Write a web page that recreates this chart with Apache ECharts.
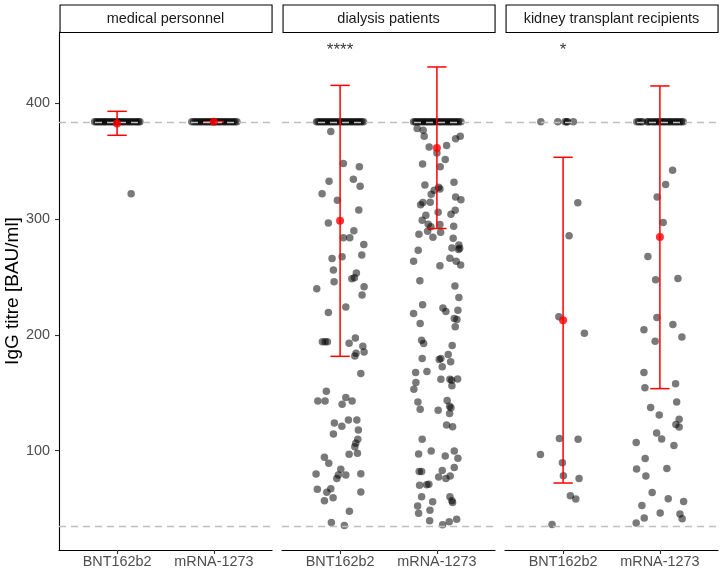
<!DOCTYPE html>
<html>
<head>
<meta charset="utf-8">
<script src="https://cdn.jsdelivr.net/npm/echarts@6/dist/echarts.min.js"></script>
<style>html,body{margin:0;padding:0;background:#fff}#c{width:722px;height:573px}</style>
</head>
<body>
<div id="c"></div>
<script>
// ---------- data ----------
const panels = ['medical personnel', 'dialysis patients', 'kidney transplant recipients'];
const categories = ['BNT162b2', 'mRNA-1273'];
const yTicks = [100, 200, 300, 400];
const upperLimit = 384;
const lowerLimit = 35;

// points below the upper limit: [jitter (category units), IgG titre]
const medBNT = [[0.145, 322]];
const medMRNA = [];
const dialBNT = [[-0.096,375.6],[0.034,348],[0.199,345.3],[-0.114,332.6],[0.137,334.4],[0.207,328.3],[-0.186,322],[-0.028,316.2],[0.193,307.9],[-0.121,296.6],[0.142,290],[0.034,284],[0.1,284],[0.245,278],[-0.083,266],[0.021,267.4],[0.224,269],[-0.069,256],[0.168,253.4],[0.121,248.5],[0.148,249.3],[-0.062,245.9],[-0.241,239.8],[0.248,241.6],[0.227,234.4],[0.059,224],[-0.121,219.3],
[-0.183,194.2],[-0.155,194.2],[-0.131,194.2],[0.093,192.8],[0.158,197.3],[0.235,190.2],[0.248,185.3],[0.165,184.2],[0.152,181.8],[0.214,166.6],[-0.142,151.3],[-0.23,143],[-0.155,143],[0.059,146],[0.021,140.2],[0.124,143],[-0.059,124],[0.018,121.2],[0.086,126.5],[0.173,126.5],[-0.069,114.5],[0.189,117.9],[0.183,109.9],[0.162,106.4],[0.152,103.5],[0.093,96.9],[0.179,97.8],[-0.162,94.3],[-0.117,89.1],[0.007,84],[-0.248,79.9],[-0.018,79],[0.059,79],[-0.034,75.9],[0.214,80],[-0.235,66.7],[-0.137,64.1],[-0.096,67.2],[-0.072,59.4],[-0.162,56.8],[0.214,64.4],[0.096,47.7],[-0.09,38],[0.044,35.4]];
const dialMRNA = [[-0.204,378.2],[-0.142,376.7],[-0.131,371.5],[0.193,369.5],[0.241,371.5],[-0.08,362.3],[0.1,363.5],[0,357.1],[0.086,351.4],[-0.148,347.6],[0.034,345.3],[-0.124,329.5],[0.176,331.8],[0.018,327.5],[0.031,326],[-0.028,324.9],[-0.059,321.4],[0.193,319.1],[0.248,316.8],[-0.168,312.5],[-0.145,314.3],[-0.069,314.6],[0.189,307.7],[0.145,304.2],[0.013,305.9],[-0.114,303.3],[-0.152,299],[-0.09,295.5],[-0.062,293.5],[-0.096,289.5],[0.031,295.3],[0.173,293.8],[-0.186,287],[0.038,288.7],[-0.041,284.4],[0.168,283.5],[0.227,277.7],[0.155,275],[0.224,273.7],[0.235,274.8],[-0.193,273.2],[0.134,266.3],[0.199,263.7],[0.245,260.3],[-0.241,263.7],[0.031,259.7],[-0.176,246.8],[0.186,242.2],[0.227,232.4],[-0.148,226.1],[-0.241,218.6],[0.062,223.2],[0.093,220.3],[0.217,221.4],[-0.173,209.9],[0.179,214.2],[0.207,213.3],[0.189,207],
[-0.158,195.3],[-0.137,192.5],[0.158,190.8],[-0.152,179.6],[0.024,178.7],[0.041,179.6],[0.117,183],[0.142,176.9],[0.055,172.6],[-0.22,167.5],[-0.103,168.3],[0.041,161.7],[0.134,161.7],[0.152,160.8],[0.214,161.9],[0.155,156.2],[-0.217,158.8],[-0.238,153],[-0.196,142.1],[-0.173,135.8],[0.013,134.9],[0.106,143.3],[0.131,138.3],[0.145,137.2],[0.131,132.1],[0.1,122.3],[0.162,120.6],[-0.152,109.9],[-0.189,97.2],[-0.059,99.8],[0.086,95.5],[0.179,99.8],[0.217,93.5],[-0.183,82.1],[-0.158,82.1],[0.055,83],[0.179,85.6],[0.018,77.2],[0.093,76.1],[0.137,78.1],[-0.179,70.1],[-0.106,70.7],[-0.083,71],[-0.158,60.3],[0.134,60.3],[0.155,56.8],[0.162,55.3],[-0.044,56],[-0.199,52.3],[-0.189,45.9],[-0.072,48.5],[-0.075,39.6],[0.059,36.1],[0.127,38.7],[0.204,40.7]];
const kidBNT = [[0.152,314.2],[0.062,285.7],[-0.044,215.6],[0.22,201.4],[-0.038,110.5],[0.155,109.9],[-0.234,96.7],[-0.007,89.5],[0.003,78.3],[0.165,76],[0.075,61],[0.131,58.2],[-0.114,36.2]];
const kidMRNA = [[0.131,342.1],[0.059,329.8],[-0.028,319.1],[0.034,297],[-0.124,267.8],[-0.044,247.6],[0.186,248.8],[-0.031,215],[0.134,209],[-0.165,204.4],[0.227,198.3],[-0.049,194.6],[-0.165,167.6],[-0.155,154.3],[0.162,157.8],[-0.096,137.4],[0.173,142],[-0.007,130.8],[0.199,127.1],[0.165,122.7],[0.199,120.4],[-0.034,115.2],[0.018,110.2],[0.145,104.5],[-0.245,107.1],[-0.152,93.3],[-0.241,84.1],[-0.145,78.1],[0.072,84.7],[-0.08,63.9],[0.086,58.5],[0.245,56.2],[-0.186,52.7],[0.003,46.2],[0.207,45.3],[0.23,41.3],[-0.162,41.9],[-0.245,37.6]];

// jitter of the points sitting at the upper limit (384 BAU/ml)
const medBNTcap = [-0.232,-0.214,-0.199,-0.178,-0.163,-0.141,-0.127,-0.109,-0.088,-0.071,-0.052,-0.036,-0.014,0.008,0.019,0.041,0.057,0.073,0.094,0.112,0.131,0.148,0.166,0.187,0.203,0.221,0.236];
const medMRNAcap = [-0.229,-0.207,-0.188,-0.171,-0.149,-0.133,-0.112,-0.094,-0.077,-0.058,-0.039,-0.021,-0.004,0.016,0.034,0.052,0.069,0.088,0.107,0.124,0.143,0.161,0.182,0.199,0.217,0.238];
const dialBNTcap = [-0.243,-0.226,-0.204,-0.189,-0.168,-0.152,-0.131,-0.113,-0.096,-0.074,-0.058,-0.037,-0.019,0.003,0.021,0.038,0.057,0.076,0.092,0.114,0.129,0.151,0.168,0.186,0.204,0.223,0.242];
const dialMRNAcap = [-0.241,-0.222,-0.206,-0.184,-0.167,-0.148,-0.129,-0.111,-0.093,-0.072,-0.054,-0.038,-0.016,0.002,0.023,0.041,0.058,0.079,0.096,0.117,0.133,0.152,0.171,0.189,0.207,0.226,0.248];
const kidBNTcap = [-0.23,-0.055,0.021,0.038,0.045,0.106];
const kidMRNAcap = [-0.238,-0.219,-0.196,-0.18,-0.131,-0.117,-0.094,-0.071,-0.052,-0.033,-0.013,0.006,0.027,0.044,0.063,0.085,0.102,0.121,0.144,0.163,0.181,0.203,0.222,0.241];

// mean and error bar (lower, upper) per panel: [BNT162b2, mRNA-1273]
const meanValues = [[382.5, 384], [298.6, 361.5], [212.7, 284.5]];
const errLower   = [[372.4, 384], [181.5, 291.9], [72.1, 153.6]];
const errUpper   = [[393.1, 384], [415.5, 431.4], [353.4, 415.0]];

// significance labels (above BNT162b2)
const sigLabels = ['', '****', '*'];
const sigValue = 446;

// ---------- chart ----------
const groupPoints = [[medBNT, medMRNA], [dialBNT, dialMRNA], [kidBNT, kidMRNA]];
const groupCaps = [[medBNTcap, medMRNAcap], [dialBNTcap, dialMRNAcap], [kidBNTcap, kidMRNAcap]];

const font = 'Liberation Sans, Arial, Helvetica, sans-serif';
const gridLefts = [59, 282, 505];
const gridW = 213, gridTop = 32, gridH = 518;
const yMin = 14.25, yMax = 461.6;

const grids = [], xAxes = [], yAxes = [], series = [], graphics = [];

panels.forEach((name, p) => {
  grids.push({left: gridLefts[p], top: gridTop, width: gridW, height: gridH});
  xAxes.push({
    type: 'value', gridIndex: p, min: 0.4, max: 2.6,
    splitLine: {show: false},
    axisLine: {show: true, lineStyle: {color: '#000', width: 1.1}},
    axisTick: {show: true, customValues: [1, 2], length: 4, lineStyle: {color: '#333', width: 1.1}},
    axisLabel: {show: true, customValues: [1, 2], formatter: v => categories[Math.round(v) - 1] || '',
      color: '#4d4d4d', fontSize: 14.4, fontFamily: font, margin: 5}
  });
  const first = p === 0;
  yAxes.push({
    type: 'value', gridIndex: p, min: yMin, max: yMax,
    splitLine: {show: false},
    axisLine: {show: first, onZero: false, lineStyle: {color: '#000', width: 1.1}},
    axisTick: {show: first, customValues: yTicks, length: 4, lineStyle: {color: '#333', width: 1.1}},
    axisLabel: {show: first, customValues: yTicks, color: '#4d4d4d', fontSize: 14.4, fontFamily: font, margin: 9},
    name: first ? 'IgG titre [BAU/ml]' : '',
    nameLocation: 'middle', nameGap: 36, nameRotate: 90,
    nameTextStyle: {color: '#000', fontSize: 19, fontFamily: font}
  });

  // jittered points
  [0, 1].forEach(c => {
    const data = groupPoints[p][c].map(d => [c + 1 + d[0], d[1]])
      .concat(groupCaps[p][c].map(j => [c + 1 + j, upperLimit]));
    series.push({
      type: 'scatter', xAxisIndex: p, yAxisIndex: p, data: data,
      symbolSize: 7.5, silent: true, z: 2,
      itemStyle: {color: 'rgba(0,0,0,0.66)', borderWidth: 0}
    });
  });

  // dashed limit lines (drawn above points)
  series.push({
    type: 'line', xAxisIndex: p, yAxisIndex: p, data: [], z: 3, silent: true,
    markLine: {
      silent: true, symbol: ['none', 'none'], label: {show: false},
      lineStyle: {color: '#bebebe', type: [7, 5], width: 1.3},
      data: [{yAxis: upperLimit}, {yAxis: lowerLimit}]
    }
  });

  // error bars
  series.push({
    type: 'custom', xAxisIndex: p, yAxisIndex: p, z: 4, silent: true,
    data: [0, 1].map(c => [c + 1, errLower[p][c], errUpper[p][c]]),
    renderItem: (params, api) => {
      const x = api.value(0), lo = api.value(1), hi = api.value(2);
      const cap = 0.1;
      const top = api.coord([x, hi]), bot = api.coord([x, lo]);
      const tl = api.coord([x - cap, hi]), tr = api.coord([x + cap, hi]);
      const bl = api.coord([x - cap, lo]), br = api.coord([x + cap, lo]);
      const st = {stroke: '#ff0000', lineWidth: 1.5};
      return {type: 'group', children: [
        {type: 'line', shape: {x1: top[0], y1: top[1], x2: bot[0], y2: bot[1]}, style: st},
        {type: 'line', shape: {x1: tl[0], y1: tl[1], x2: tr[0], y2: tr[1]}, style: st},
        {type: 'line', shape: {x1: bl[0], y1: bl[1], x2: br[0], y2: br[1]}, style: st}
      ]};
    }
  });

  // means
  series.push({
    type: 'scatter', xAxisIndex: p, yAxisIndex: p, z: 5, silent: true,
    data: [0, 1].map(c => [c + 1, meanValues[p][c]]),
    symbolSize: 8, itemStyle: {color: '#ff0000'}
  });

  // significance label
  if (sigLabels[p]) {
    series.push({
      type: 'scatter', xAxisIndex: p, yAxisIndex: p, z: 6, silent: true,
      data: [[1, sigValue]], symbolSize: 0,
      label: {show: true, position: 'inside', formatter: sigLabels[p],
        color: '#000', fontSize: 17, fontFamily: font}
    });
  }

  // facet strip
  graphics.push({
    type: 'rect', left: gridLefts[p] + 0.5, top: 4.5,
    shape: {width: gridW - 1, height: 27.5},
    style: {fill: '#fff', stroke: '#000', lineWidth: 1.1}
  });
  graphics.push({
    type: 'text', x: gridLefts[p] + gridW / 2, y: 18.5,
    style: {text: name, fill: '#1a1a1a', fontSize: 14.5, fontFamily: font,
      textAlign: 'center', textVerticalAlign: 'middle'}
  });
});

const chart = echarts.init(document.getElementById('c'), null, {renderer: 'canvas'});
chart.setOption({
  animation: false,
  backgroundColor: '#fff',
  grid: grids, xAxis: xAxes, yAxis: yAxes, series: series, graphic: graphics
});
</script>
</body>
</html>
